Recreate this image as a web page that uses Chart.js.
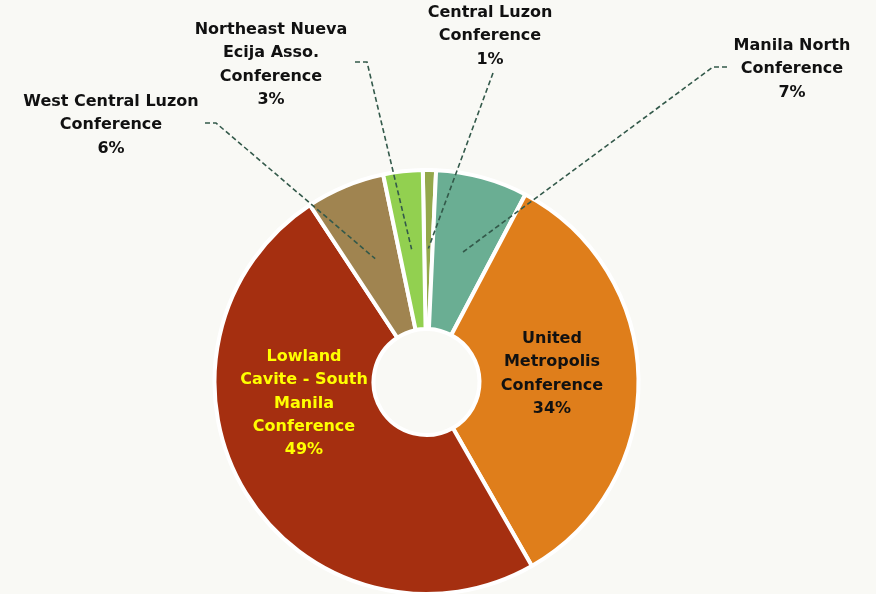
<!DOCTYPE html>
<html>
<head>
<meta charset="utf-8">
<script src="https://cdn.jsdelivr.net/npm/chart.js@4"></script>
<style>
  html, body { margin: 0; padding: 0; background: #f9f9f5; }
  #wrap { width: 876px; height: 594px; }
</style>
</head>
<body>
<div id="wrap"><canvas id="pChart" width="876" height="594"></canvas></div>
<script>
const conferenceNames = [
  ["Central Luzon", "Conference"],
  ["Manila North", "Conference"],
  ["United", "Metropolis", "Conference"],
  ["Lowland", "Cavite - South", "Manila", "Conference"],
  ["West Central Luzon", "Conference"],
  ["Northeast Nueva", "Ecija Asso.", "Conference"]
];
const conferenceShares = [1, 7, 34, 49, 6, 3];
const sliceColors = ["#94a84b", "#6aae93", "#df7e1b", "#a52f10", "#a08450", "#92d050"];

// where each label sits (centre of first line): inside the slice, or outside with a dashed leader
const labelSpots = [
  { x: 490, y: 13, lead: [[493, 73]] },
  { x: 792, y: 46, lead: [[727, 67], [713, 67]] },
  { x: 552, y: 339, inside: true, color: "#111111" },
  { x: 304, y: 357, inside: true, color: "#ffff00" },
  { x: 111, y: 102, lead: [[205, 123], [216, 123]] },
  { x: 271, y: 30, lead: [[355, 62], [367, 62]] }
];

const labelPlugin = {
  id: "labels",
  afterDraw(chart) {
    const ctx = chart.ctx;
    const arcs = chart.getDatasetMeta(0).data;
    ctx.save();
    ctx.font = "bold 16px 'DejaVu Sans'";
    ctx.textAlign = "center";
    ctx.textBaseline = "middle";
    arcs.forEach((arc, i) => {
      const spot = labelSpots[i];
      const p = arc.getProps(["x", "y", "startAngle", "endAngle", "outerRadius"], true);
      if (spot.lead) {
        const mid = (p.startAngle + p.endAngle) / 2;
        const r = p.outerRadius * 0.63;
        ctx.strokeStyle = "#33594a";
        ctx.lineWidth = 1.6;
        ctx.setLineDash([5, 3]);
        ctx.beginPath();
        ctx.moveTo(spot.lead[0][0], spot.lead[0][1]);
        spot.lead.slice(1).forEach(pt => ctx.lineTo(pt[0], pt[1]));
        ctx.lineTo(p.x + Math.cos(mid) * r, p.y + Math.sin(mid) * r);
        ctx.stroke();
        ctx.setLineDash([]);
      }
      ctx.fillStyle = spot.color || "#111111";
      const lines = conferenceNames[i].concat([conferenceShares[i] + "%"]);
      lines.forEach((line, k) => ctx.fillText(line, spot.x, spot.y + k * 23.2));
    });
    ctx.restore();
  }
};

new Chart(document.getElementById("pChart"), {
  type: "doughnut",
  data: {
    labels: conferenceNames.map(n => n.join(" ")),
    datasets: [{
      data: conferenceShares,
      backgroundColor: sliceColors,
      borderColor: "#ffffff",
      borderWidth: 4
    }]
  },
  options: {
    responsive: false,
    animation: false,
    rotation: -1,
    cutout: "25%",
    radius: 212,
    layout: { padding: { top: 170, left: 214, right: 237, bottom: 0 } },
    plugins: { legend: { display: false }, tooltip: { enabled: false } }
  },
  plugins: [labelPlugin]
});
</script>
</body>
</html>
